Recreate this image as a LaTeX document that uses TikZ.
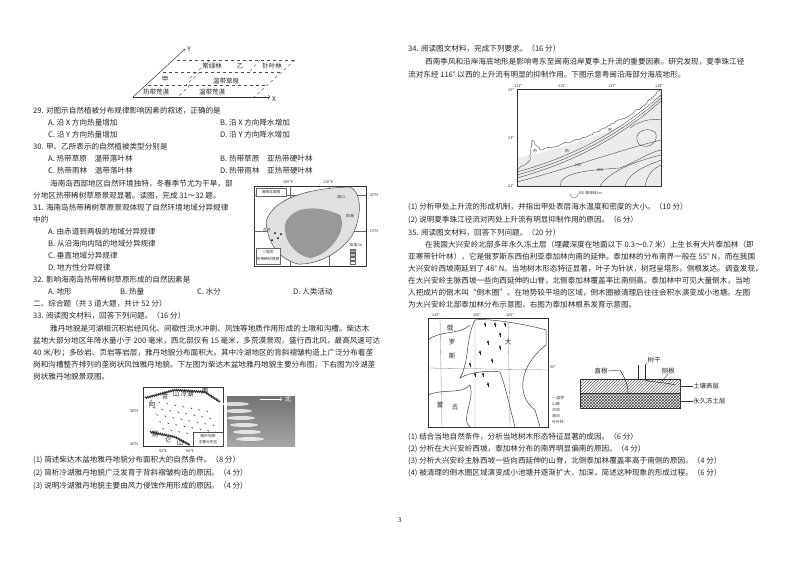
\documentclass[tikz,border=0pt]{standalone}
\usepackage{fontspec}
\setmainfont{Noto Sans CJK SC}
\usetikzlibrary{patterns,decorations.pathmorphing}
\begin{document}
\begin{tikzpicture}[x=1pt,y=-1pt,
 t/.style={anchor=west,inner sep=0pt,font=\fontsize{7.6}{9}\selectfont,text=black!85},
 s/.style={anchor=center,inner sep=0pt,font=\fontsize{6.5}{7}\selectfont,text=black!85},
 xs/.style={anchor=center,inner sep=0pt,font=\fontsize{3.8}{4}\selectfont,text=black!80},
 dl/.style={dashed,black!70,line width=0.4pt},
 fr/.style={draw=black!80,line width=0.6pt}]
\useasboundingbox (0,0) rectangle (800,565);
\fill[white] (0,0) rectangle (800,565);
% ---------- vegetation diagram
\coordinate (o) at (133,97);
\coordinate (xe) at (270,97);
\coordinate (ye) at (185,49);
\draw[->,black!80,line width=0.5pt] (o) -- (xe);
\draw[->,black!80,line width=0.5pt] (o) -- (ye);
\draw[dl] (177,60) -- (295,60);
\draw[dl] (163,72) -- (282,72);
\draw[dl] (148,85) -- (268,85);
\draw[dl] (295,60) -- (254,97);
\draw[dl] (210,60) -- (190,78) (190,85) -- (178,97);
\draw[dl] (260,60) -- (249,72);
\draw[dl] (200,72) -- (186,85);
\node[s] (yl) at (189,49) {Y};
\node[s] (xl) at (274,99) {X};
\node[s] (v1) at (212,66) {常绿林};
\node[s] (v2) at (240,66) {乙};
\node[s] (v3) at (272,66) {针叶林};
\node[s] (v4) at (165,79) {甲};
\node[s] (v5) at (226,81) {温带草原};
\node[s] (v6) at (156,92) {热带荒漠};
\node[s] (v7) at (212,92) {温带荒漠};
% ---------- left text
\node[t] (q29) at (33,111) {29. 对图示自然植被分布规律影响因素的叙述，正确的是};
\node[t] (q29a) at (48,123) {A. 沿 X 方向热量增加};
\node[t] (q29b) at (220,123) {B. 沿 X 方向降水增加};
\node[t] (q29c) at (48,135) {C. 沿 Y 方向热量增加};
\node[t] (q29d) at (220,135) {D. 沿 Y 方向降水增加};
\node[t] (q30) at (33,147) {30. 甲、乙所表示的自然植被类型分别是};
\node[t] (q30a) at (48,159) {A. 热带草原\quad 温带落叶林};
\node[t] (q30b) at (220,159) {B. 热带草原\quad 亚热带硬叶林};
\node[t] (q30c) at (48,171) {C. 热带雨林\quad 温带落叶林};
\node[t] (q30d) at (220,171) {D. 热带雨林\quad 亚热带硬叶林};
\node[t] (p1) at (50,184) {海南岛西部地区自然环境独特，冬春季节尤为干旱，部};
\node[t] (p2) at (33,196) {分地区热带稀树草原景观显著。读图，完成 31～32 题。};
\node[t] (q31) at (33,208) {31. 海南岛热带稀树草原景观体现了自然环境地域分异规律};
\node[t] (q31x) at (33,220) {中的};
\node[t] (q31a) at (48,232) {A. 由赤道到两极的地域分异规律};
\node[t] (q31b) at (48,244) {B. 从沿海向内陆的地域分异规律};
\node[t] (q31c) at (48,256) {C. 垂直地域分异规律};
\node[t] (q31d) at (48,268) {D. 地方性分异规律};
\node[t] (q32) at (33,280) {32. 影响海南岛热带稀树草原形成的自然因素是};
\node[t] (q32a) at (48,292) {A. 地形};
\node[t] (q32b) at (120,292) {B. 热量};
\node[t] (q32c) at (197,292) {C. 水分};
\node[t] (q32d) at (293,292) {D. 人类活动};
\node[t] (sec) at (33,304) {二、综合题（共 3 道大题，共计 52 分）};
\node[t] (q33) at (33,316) {33. 阅读图文材料，回答下列问题。（16 分）};
\node[t] (r1) at (50,329) {雅丹地貌是河湖相沉积岩经风化、间歇性流水冲刷、风蚀等地质作用形成的土墩和沟槽。柴达木};
\node[t] (r2) at (33,341) {盆地大部分地区年降水量小于 200 毫米，西北部仅有 15 毫米，多荒漠景观，盛行西北风，最高风速可达};
\node[t] (r3) at (33,353) {40 米/秒；多砂岩、页岩等岩层，雅丹地貌分布面积大。其中冷湖地区的背斜褶皱构造上广泛分布着垄};
\node[t] (r4) at (33,365) {岗和沟槽整齐排列的垄岗状风蚀雅丹地貌。下左图为柴达木盆地雅丹地貌主要分布图，下右图为冷湖垄};
\node[t] (r5) at (33,377) {岗状雅丹地貌景观图。};
\node[t] (q33a) at (33,460) {(1) 简述柴达木盆地雅丹地貌分布面积大的自然条件。（8 分）};
\node[t] (q33b) at (33,473) {(2) 简析冷湖雅丹地貌广泛发育于背斜褶皱构造的原因。（4 分）};
\node[t] (q33c) at (33,486) {(3) 说明冷湖雅丹地貌主要由风力侵蚀作用形成的原因。（4 分）};
% ---------- Hainan map
\draw[fr] (254,186) rectangle (366,266);
\draw[black!60,line width=0.3pt] (290,186) -- (290,266) (329,186) -- (329,266) (254,195) -- (366,195) (254,231) -- (366,231);
\fill[black!12] (266,222) .. controls (272,198) and (310,188) .. (350,187) .. controls (362,192) and (362,215) .. (353,234) .. controls (342,252) and (318,265) .. (298,264) .. controls (282,260) and (268,247) .. (266,222);
\fill[black!40] (285,225) .. controls (290,205) and (320,205) .. (340,215) .. controls (348,230) and (330,255) .. (310,258) .. controls (295,255) and (283,240) .. (285,225);
\draw[black!70,line width=0.5pt] (266,222) .. controls (272,198) and (310,188) .. (350,187) .. controls (362,192) and (362,215) .. (353,234) .. controls (342,252) and (318,265) .. (298,264) .. controls (282,260) and (268,247) .. (266,222);
\fill[white,draw=black!60,line width=0.3pt] (256,188) rectangle (286,196);
\node[xs] (hn) at (271,192) {海南岛简图};
\node[xs] (lo1) at (288,182) {109°E};
\node[xs] (lo2) at (328,182) {110°E};
\node[xs] (la1) at (374,195) {20°N};
\node[xs] (la2) at (374,231) {19°N};
\node[xs] (hk) at (341,197) {海口};
\node[xs] (qh) at (350,216) {琼海};
\node[xs] (df) at (267,230) {东方};
\fill[black] (275,233) circle (1) (278,238) circle (1) (272,240) circle (1) (281,234) circle (1);
\draw[black!60,line width=0.3pt,fill=white] (256,248) rectangle (280,264);
\node[xs] (lg1) at (268,252) {◎城市};
\node[xs] (lg2) at (268,259) {热带稀树草原};
\foreach \yy/\c in {249/40,253/25,257/12,261/0}{\draw[black!60,line width=0.2pt,fill=black!\c] (350,\yy) rectangle (355,\yy+3);}
\node[xs] (hg) at (356,245) {高度/m};
% ---------- Qaidam map
\draw[fr] (143,387) rectangle (223,446);
\draw[black!80,line width=1pt,decorate,decoration={zigzag,amplitude=0.7,segment length=2}] (145,398) -- (175,390) -- (205,392) -- (220,402);
\draw[black!80,line width=1pt,decorate,decoration={zigzag,amplitude=0.7,segment length=2}] (150,432) -- (175,437) -- (190,445);
\foreach \i in {0,...,7}{\foreach \j in {0,...,4}{\fill[black!85] (150+\i*8+\j*3,400+\j*7+\i*1.5) -- ++(2,0.8) -- ++(0,0.8) -- cycle;}}
\node[s] (a1) at (152,405) {阿};
\node[s] (a2) at (165,396) {金};
\node[s] (a3) at (176,394) {山};
\node[s] (lh) at (187,394) {冷湖};
\node[s] (nl) at (205,391) {南};
\node[s] (ql1) at (155,434) {昆};
\node[s] (ql2) at (168,440) {仑};
\node[s] (ql3) at (180,443) {山};
\draw[black!70,fill=white,line width=0.3pt] (193,432) rectangle (223,446);
\node[xs] (yd) at (208,439) {\shortstack{雅丹地貌\\主要分布区}};
\node[xs] (n38) at (134,411) {38°N};
\node[xs] (n36) at (134,444) {36°N};
\node[xs] (e92) at (163,451) {92°E};
\node[xs] (e94) at (190,451) {94°E};
\shade[top color=black!55,bottom color=black!35] (227,396) rectangle (295,446);
\foreach \k in {0,...,5}{\fill[white,opacity=0.75] (235+\k*3,404+\k*7) ellipse (14 and 2);}
\draw[->,white,line width=0.5pt] (260,399) -- (282,399);
\node[s,text=white] (bei) at (288,399) {北};
% ---------- right text
\node[t] (q34) at (408,49) {34. 阅读图文材料，完成下列要求。（16 分）};
\node[t] (s1) at (425,62) {西南季风和沿岸海底地形是影响粤东至闽南沿岸夏季上升流的重要因素。研究发现，夏季珠江径};
\node[t] (s2) at (408,75) {流对东经 116° 以西的上升流有明显的抑制作用。下图示意粤闽沿海部分海底地形。};
\node[t] (q34a) at (408,207) {(1) 分析甲处上升流的形成机制，并指出甲处表层海水温度和密度的大小。（10 分）};
\node[t] (q34b) at (408,220) {(2) 说明夏季珠江径流对丙处上升流有明显抑制作用的原因。（6 分）};
\node[t] (q35) at (408,233) {35. 阅读图文材料，回答下列问题。（20 分）};
\node[t] (u1) at (425,245) {在我国大兴安岭北部多年永久冻土层（埋藏深度在地面以下 0.3～0.7 米）上生长有大片泰加林（即};
\node[t] (u2) at (408,257) {亚寒带针叶林），它是俄罗斯东西伯利亚泰加林向南的延伸。泰加林的分布南界一般在 55° N，而在我国};
\node[t] (u3) at (408,269) {大兴安岭西坡南延到了 48° N。当地树木形态特征显著，叶子为针状，树冠呈塔形，侧根发达。调查发现，};
\node[t] (u4) at (408,281) {在大兴安岭主脉西坡一些向西延伸的山脊，北侧泰加林覆盖率比南侧高。泰加林中可见大量倒木，当地};
\node[t] (u5) at (408,293) {人把成片的倒木叫“倒木圈”。在地势较平坦的区域，倒木圈被清理后往往会积水演变成小池塘。左图};
\node[t] (u6) at (408,305) {为大兴安岭北部泰加林分布示意图，右图为泰加林根系发育示意图。};
\node[t] (q35a) at (408,437) {(1) 结合当地自然条件，分析当地树木形态特征显著的成因。（6 分）};
\node[t] (q35b) at (408,449) {(2) 分析在大兴安岭西坡，泰加林分布的南界明显偏南的原因。（4 分）};
\node[t] (q35c) at (408,461) {(3) 分析大兴安岭主脉西坡一些向西延伸的山脊，北侧泰加林覆盖率高于南侧的原因。（4 分）};
\node[t] (q35d) at (408,473) {(4) 被清理的倒木圈区域演变成小池塘并逐渐扩大、加深，简述这种现象的形成过程。（6 分）};
% ---------- sea floor map
\fill[black!8] (517,175) -- (517,158) .. controls (560,150) and (600,135) .. (640,118) .. controls (650,110) and (658,98) .. (661,92) -- (661,186) -- (517,186) -- cycle;
\draw[black!70,line width=0.4pt,decorate,decoration={random steps,segment length=2,amplitude=1}] (517,170) -- (530,160) -- (532,140) -- (540,150) -- (560,145) -- (590,135) -- (610,125) -- (630,115) -- (645,105) -- (655,95) -- (661,89);
\foreach \d in {0,3,6}{\draw[black!70,line width=0.4pt] (517,172+\d) .. controls (560,160+\d) and (610,140+\d) .. (661,95+\d);}
\draw[black!70,line width=0.4pt] (517,182) .. controls (570,168) and (620,150) .. (661,140);
\draw[black!70,line width=0.4pt] (560,186) .. controls (560,172) and (590,170) .. (620,168) .. controls (640,160) and (650,152) .. (661,150);
\draw[black!70,line width=0.4pt] (600,186) .. controls (610,170) and (640,160) .. (661,155);
\draw[black!70,line width=0.4pt] (625,186) .. controls (630,170) and (650,165) .. (661,160);
\draw[black!70,line width=0.4pt] (645,186) .. controls (648,172) and (655,168) .. (661,165);
\draw[black!70,line width=0.4pt] (630,128) .. controls (640,120) and (655,118) .. (661,120);
\draw[black!70,line width=0.4pt] (640,145) .. controls (630,135) and (645,125) .. (655,132) .. controls (660,140) and (650,150) .. (640,145);
\draw[fr] (517,89) rectangle (661,186);
\node[xs] (jia) at (610,130) {甲};
\node[xs] (yi) at (567,151) {丙};
\node[xs] (bing) at (535,151) {丙};
\node[xs] (c100) at (578,165) {100};
\node[xs] (c200) at (600,170) {200};
\node[xs] (m1) at (518,86) {113°};
\node[xs] (m2) at (562,86) {115°};
\node[xs] (m3) at (612,86) {117°};
\node[xs] (m4) at (659,86) {119°};
\node[xs] (l25) at (511,90) {25°};
\node[xs] (l23) at (511,138) {23°};
\node[xs] (l21) at (511,186) {21°};
\draw[black!70,line width=0.3pt] (570,194) arc (180:0:4);
\node[xs] (dl) at (590,193) {100\ 等深线/m};
% ---------- taiga map
\draw[fr] (428,318) rectangle (548,427);
\draw[black!50,line width=0.3pt] (440,318) -- (442,427) (475,318) -- (475,427) (508,318) -- (510,427) (428,368) -- (548,370);
\draw[black!75,line width=0.5pt] (475,320) .. controls (490,318) and (530,325) .. (546,330) -- (546,345) .. controls (520,365) and (515,395) .. (535,410) -- (540,427);
\draw[black!75,line width=0.5pt] (475,320) .. controls (465,340) and (470,360) .. (460,378) .. controls (470,372) and (490,370) .. (500,372) .. controls (505,385) and (508,400) .. (515,427);
\draw[black!75,line width=0.5pt] (428,340) .. controls (440,330) and (460,335) .. (470,325);
\draw[black!75,line width=0.5pt] (428,395) .. controls (445,388) and (460,395) .. (470,385) .. controls (475,400) and (460,420) .. (470,427);
\foreach \px/\py in {485/322,495/322,505/322,500/332,488/340,500/345,480/350,492/358,470/362,483/372,488/382,475/372}{\fill[black!85] (\px,\py) -- ++(-1.2,3) -- ++(2.4,0) -- cycle; \draw[black!85,line width=0.4pt] (\px,\py+3) -- ++(0,1.5);}
\node[s] (el) at (450,328) {俄};
\node[s] (lu) at (452,342) {罗};
\node[s] (si) at (452,356) {斯};
\node[s] (mg1) at (440,405) {蒙};
\node[s] (mg2) at (455,407) {古};
\node[s] (da) at (508,342) {大};
\node[xs] (e1) at (436,315) {115°};
\node[xs] (e2) at (477,315) {120°};
\node[xs] (e3) at (510,315) {125°};
\node[xs] (n50) at (553,367) {50°};
\node[xs,anchor=west] (lga) at (552,398) {— 国界};
\node[xs,anchor=west] (lgb) at (552,404) {山脉};
\node[xs,anchor=west] (lgc) at (552,410) {河流};
\node[xs,anchor=west] (lgd) at (552,416) {湖泊};
\node[xs,anchor=west] (lge) at (552,422) {针叶林};
% ---------- root diagram
\fill[pattern=north east lines,pattern color=black!60] (580,379) rectangle (680,393);
\fill[pattern=crosshatch,pattern color=black!75] (580,393) rectangle (680,408);
\draw[fr] (580,379) rectangle (680,408);
\draw[black!80,line width=0.4pt] (580,393) -- (680,393);
\draw[black!85,line width=0.5pt] (620,370) .. controls (625,378) and (628,385) .. (628,393);
\draw[black!85,line width=0.5pt] (638,365) -- (638,379) (645,365) -- (645,379);
\draw[black!85,line width=0.5pt] (645,380) .. controls (655,383) and (665,382) .. (675,385);
\coordinate (c1) at (680,386);
\coordinate (c2) at (680,401);
\node[s] (zg) at (601,371) {直根};
\node[s] (sg) at (654,360) {树干};
\node[s] (cg) at (668,371) {侧根};
\node[s,anchor=west] (tr) at (693,386) {土壤表层};
\node[s,anchor=west] (dt) at (693,401) {永久冻土层};
\draw[black!80,line width=0.4pt] (c1) -- (tr.west) (c2) -- (dt.west);
\draw[black!80,line width=0.4pt] (zg.east) -- (620,370) (sg.south west) -- (645,365) (cg.south) -- (662,381);
\node[s] (pg) at (400,520) {3};
\end{tikzpicture}
\end{document}
